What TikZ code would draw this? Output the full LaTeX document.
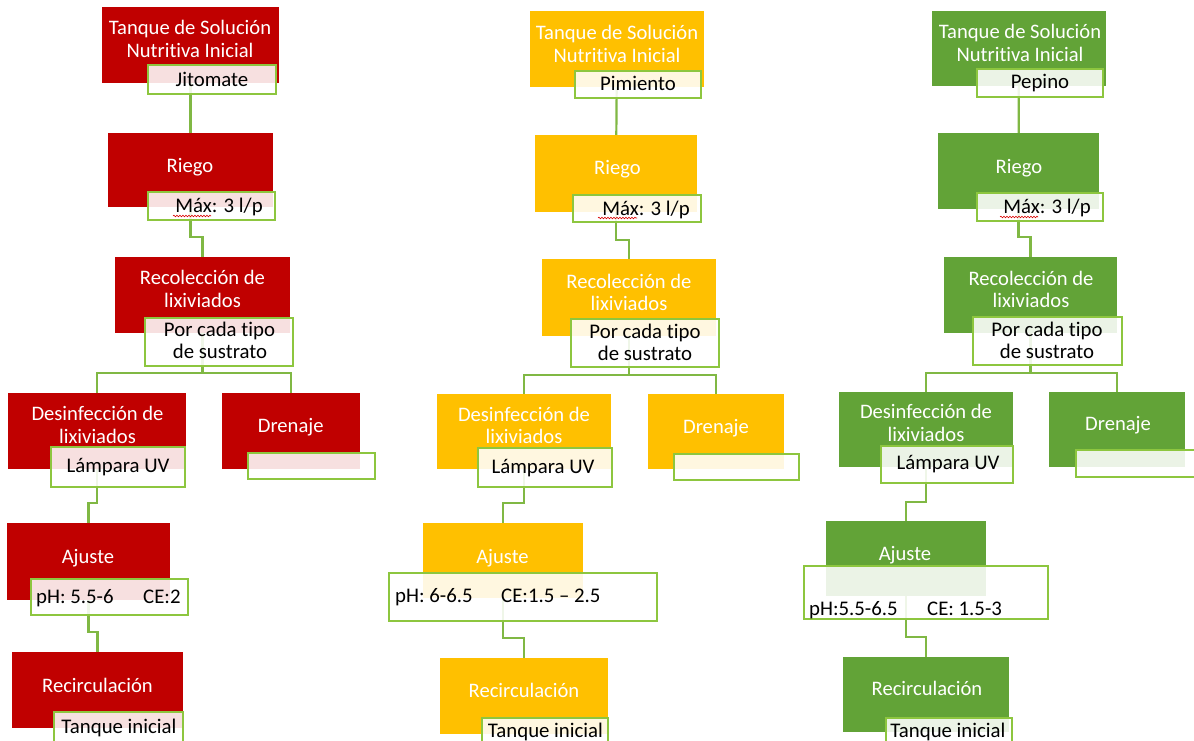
\documentclass[tikz,border=0pt]{standalone}
\usepackage{fontspec}
\setmainfont{Carlito}[Ligatures={NoCommon}]
\usetikzlibrary{fit,decorations.pathmorphing}
\definecolor{cred}{HTML}{C00000}
\definecolor{cyel}{HTML}{FFC000}
\definecolor{cgrn}{HTML}{62A337}
\definecolor{lgrn}{HTML}{8DC63F}
\definecolor{cline}{HTML}{80B844}
\pgfdeclarelayer{paper}
\pgfdeclarelayer{lines}
\pgfsetlayers{paper,lines,main}
\tikzset{
  mainbox/.style={inner sep=0pt, outer sep=0pt, draw=none},
  redbox/.style={mainbox, fill=cred},
  yelbox/.style={mainbox, fill=cyel},
  grnbox/.style={mainbox, fill=cgrn},
  tbox/.style={inner sep=0pt, outer sep=0pt, draw=lgrn, line width=2.2pt, fill=white, fill opacity=0.88},
  wt/.style={text=white, font=\fontsize{20.6}{24}\selectfont, anchor=base, inner sep=0pt},
  bt/.style={text=black, font=\fontsize{20.8}{24}\selectfont, anchor=base, inner sep=0pt},
  btl/.style={bt, anchor=base west},
  conn/.style={draw=cline, line width=2.2pt},
  wavy/.style={draw=red!85!black, line width=0.6pt, decorate, decoration={snake, amplitude=0.8pt, segment length=3pt}}
}
\newcommand\mkbox[6]{\node[#6, fit={(#2,#3) (#4,#5)}] (#1) {};}
\begin{document}
\begin{tikzpicture}[x=1pt,y=-1pt]
\begin{pgfonlayer}{paper}
\fill[white] (0,0) rectangle (1194,740);
\end{pgfonlayer}
\useasboundingbox (0,0) rectangle (1194,740);
% ---------- elbow levels ----------
\coordinate (c1y1) at (0,237);
\coordinate (c1y2) at (0,373);
\coordinate (c1y3) at (0,503);
\coordinate (c1y4) at (0,632);
\coordinate (c2y1) at (0,240);
\coordinate (c2y2) at (0,375);
\coordinate (c2y3) at (0,503);
\coordinate (c2y4) at (0,638);
\coordinate (c3y1) at (0,237);
\coordinate (c3y2) at (0,373);
\coordinate (c3y3) at (0,502);
\coordinate (c3y4) at (0,637);
% ---------- main boxes ----------
% column 1
\mkbox{c1tank}{102}{7}{279}{83}{redbox}
\mkbox{c1rieg}{108}{133}{273}{207}{redbox}
\mkbox{c1reco}{115}{257}{290}{333}{redbox}
\mkbox{c1desi}{8}{393}{186}{469}{redbox}
\mkbox{c1dren}{222}{393}{360}{469}{redbox}
\mkbox{c1ajus}{7}{523}{170}{600}{redbox}
\mkbox{c1reci}{12}{652}{183}{728}{redbox}
% column 2
\mkbox{c2tank}{530}{11}{704}{87}{yelbox}
\mkbox{c2rieg}{535}{135}{697}{212}{yelbox}
\mkbox{c2reco}{542}{259}{716}{336}{yelbox}
\mkbox{c2desi}{437}{394}{611}{469}{yelbox}
\mkbox{c2dren}{648}{394}{784}{469}{yelbox}
\mkbox{c2ajus}{423}{523}{583}{598}{yelbox}
\mkbox{c2reci}{440}{658}{608}{734}{yelbox}
% column 3
\mkbox{c3tank}{932}{11}{1106}{86}{grnbox}
\mkbox{c3rieg}{938}{133}{1099}{209}{grnbox}
\mkbox{c3reco}{944}{257}{1117}{333}{grnbox}
\mkbox{c3desi}{839}{392}{1013}{467}{grnbox}
\mkbox{c3dren}{1049}{392}{1185}{467}{grnbox}
\mkbox{c3ajus}{826}{521}{986}{596}{grnbox}
\mkbox{c3reci}{843}{657}{1009}{732}{grnbox}
% ---------- text boxes ----------
\mkbox{c1jito}{148}{65}{276}{94}{tbox}
\mkbox{c1max}{148}{192}{275}{220}{tbox}
\mkbox{c1porc}{145}{318}{293}{366}{tbox}
\mkbox{c1lamp}{51}{447}{185}{487}{tbox}
\mkbox{c1dvac}{248}{453}{375}{479}{tbox}
\mkbox{c1phb}{31}{579}{188}{615}{tbox}
\mkbox{c1tinb}{54}{712}{183}{744}{tbox}
\mkbox{c2pimi}{575}{71}{701}{98}{tbox}
\mkbox{c2max}{573}{195}{701}{222}{tbox}
\mkbox{c2porc}{571}{319}{719}{367}{tbox}
\mkbox{c2lamp}{478}{448}{612}{487}{tbox}
\mkbox{c2dvac}{674}{454}{799}{480}{tbox}
\mkbox{c2phb}{389}{573}{657}{621}{tbox}
\mkbox{c2tinb}{482}{718}{608}{744}{tbox}
\mkbox{c3pepi}{977}{69}{1103}{97}{tbox}
\mkbox{c3max}{977}{193}{1103}{221}{tbox}
\mkbox{c3porc}{973}{317}{1122}{365}{tbox}
\mkbox{c3lamp}{881}{446}{1013}{483}{tbox}
\mkbox{c3dvac}{1076}{450}{1198}{477}{tbox}
\mkbox{c3phb}{804}{566}{1048}{619}{tbox}
\mkbox{c3tinb}{886}{718}{1012}{744}{tbox}
% ---------- connectors (behind the boxes) ----------
\begin{pgfonlayer}{lines}
\draw[conn] (c1tank.center) -- (c1rieg.center);
\draw[conn] (c1rieg.center) -- (c1rieg.center |- c1y1) -- (c1reco.center |- c1y1) -- (c1reco.center);
\draw[conn] (c1reco.center) -- (c1reco.center |- c1y2);
\draw[conn] (c1desi.center) -- (c1desi.center |- c1y2) -- (c1dren.center |- c1y2) -- (c1dren.center);
\draw[conn] (c1desi.center) -- (c1desi.center |- c1y3) -- (c1ajus.center |- c1y3) -- (c1ajus.center);
\draw[conn] (c1ajus.center) -- (c1ajus.center |- c1y4) -- (c1reci.center |- c1y4) -- (c1reci.center);
\draw[conn] (c2tank.center) -- (c2rieg.center);
\draw[conn] (c2rieg.center) -- (c2rieg.center |- c2y1) -- (c2reco.center |- c2y1) -- (c2reco.center);
\draw[conn] (c2reco.center) -- (c2reco.center |- c2y2);
\draw[conn] (c2desi.center) -- (c2desi.center |- c2y2) -- (c2dren.center |- c2y2) -- (c2dren.center);
\draw[conn] (c2desi.center) -- (c2desi.center |- c2y3) -- (c2ajus.center |- c2y3) -- (c2ajus.center);
\draw[conn] (c2ajus.center) -- (c2ajus.center |- c2y4) -- (c2reci.center |- c2y4) -- (c2reci.center);
\draw[conn] (c3tank.center) -- (c3rieg.center);
\draw[conn] (c3rieg.center) -- (c3rieg.center |- c3y1) -- (c3reco.center |- c3y1) -- (c3reco.center);
\draw[conn] (c3reco.center) -- (c3reco.center |- c3y2);
\draw[conn] (c3desi.center) -- (c3desi.center |- c3y2) -- (c3dren.center |- c3y2) -- (c3dren.center);
\draw[conn] (c3desi.center) -- (c3desi.center |- c3y3) -- (c3ajus.center |- c3y3) -- (c3ajus.center);
\draw[conn] (c3ajus.center) -- (c3ajus.center |- c3y4) -- (c3reci.center |- c3y4) -- (c3reci.center);
\end{pgfonlayer}
% ---------- white labels ----------
% column 1
\node[wt] (c1t1) at (190,34) {Tanque de Solución};
\node[wt] (c1t2) at (190,57) {Nutritiva Inicial};
\node[wt] (c1t3) at (190,172) {Riego};
\node[wt] (c1t4) at (202.5,284) {Recolección de};
\node[wt] (c1t5) at (202.5,307) {lixiviados};
\node[wt] (c1t6) at (97.5,420) {Desinfección de};
\node[wt] (c1t7) at (97.5,443) {lixiviados};
\node[wt] (c1t8) at (290.7,432) {Drenaje};
\node[wt] (c1t9) at (88,563) {Ajuste};
\node[wt] (c1t10) at (97.5,692) {Recirculación};
% column 2
\node[wt] (c2t1) at (617,39) {Tanque de Solución};
\node[wt] (c2t2) at (617,62) {Nutritiva Inicial};
\node[wt] (c2t3) at (617.5,174) {Riego};
\node[wt] (c2t4) at (629,288) {Recolección de};
\node[wt] (c2t5) at (629,310) {lixiviados};
\node[wt] (c2t6) at (524,421) {Desinfección de};
\node[wt] (c2t7) at (524,443) {lixiviados};
\node[wt] (c2t8) at (716,433) {Drenaje};
\node[wt] (c2t9) at (502.5,563) {Ajuste};
\node[wt] (c2t10) at (524,697) {Recirculación};
% column 3
\node[wt] (c3t1) at (1020,38) {Tanque de Solución};
\node[wt] (c3t2) at (1020,61) {Nutritiva Inicial};
\node[wt] (c3t3) at (1019,173) {Riego};
\node[wt] (c3t4) at (1031,285) {Recolección de};
\node[wt] (c3t5) at (1031,307) {lixiviados};
\node[wt] (c3t6) at (926,418) {Desinfección de};
\node[wt] (c3t7) at (926,441) {lixiviados};
\node[wt] (c3t8) at (1118,430) {Drenaje};
\node[wt] (c3t9) at (905,560) {Ajuste};
\node[wt] (c3t10) at (927,695) {Recirculación};
% ---------- black labels ----------
% column 1
\node[bt] (c1b1) at (212,86) {Jitomate};
\node[bt] (c1b2) at (219,212) {Máx: 3 l/p};
\node[bt] (c1b3) at (219.5,336) {Por cada tipo};
\node[bt] (c1b4) at (220,358) {de sustrato};
\node[bt] (c1b5) at (118,472) {Lámpara UV};
\node[btl] (c1b6) at (36,603) {\makebox[107pt][l]{pH: 5.5-6}CE:2};
\node[bt] (c1b7) at (119,733) {Tanque inicial};
% column 2
\node[bt] (c2b1) at (638,90) {Pimiento};
\node[bt] (c2b2) at (646,215) {Máx: 3 l/p};
\node[bt] (c2b3) at (645,338) {Por cada tipo};
\node[bt] (c2b4) at (645,360) {de sustrato};
\node[bt] (c2b5) at (543,473) {Lámpara UV};
\node[btl] (c2b6) at (395,602) {\makebox[106pt][l]{pH: 6-6.5}CE:1.5 – 2.5};
\node[bt] (c2b7) at (545.5,737) {Tanque inicial};
% column 3
\node[bt] (c3b1) at (1040,88) {Pepino};
\node[bt] (c3b2) at (1047,213) {Máx: 3 l/p};
\node[bt] (c3b3) at (1047,336) {Por cada tipo};
\node[bt] (c3b4) at (1047,358) {de sustrato};
\node[bt] (c3b5) at (948,469) {Lámpara UV};
\node[btl] (c3b6) at (809,615) {\makebox[118pt][l]{pH:5.5-6.5}CE: 1.5-3};
\node[bt] (c3b7) at (948,737) {Tanque inicial};
% ---------- spell-check underlines ----------
\draw[wavy] (173,216) -- (211,216);
\draw[wavy] (598,218) -- (637,218);
\draw[wavy] (1000,217) -- (1038,217);
\end{tikzpicture}
\end{document}
